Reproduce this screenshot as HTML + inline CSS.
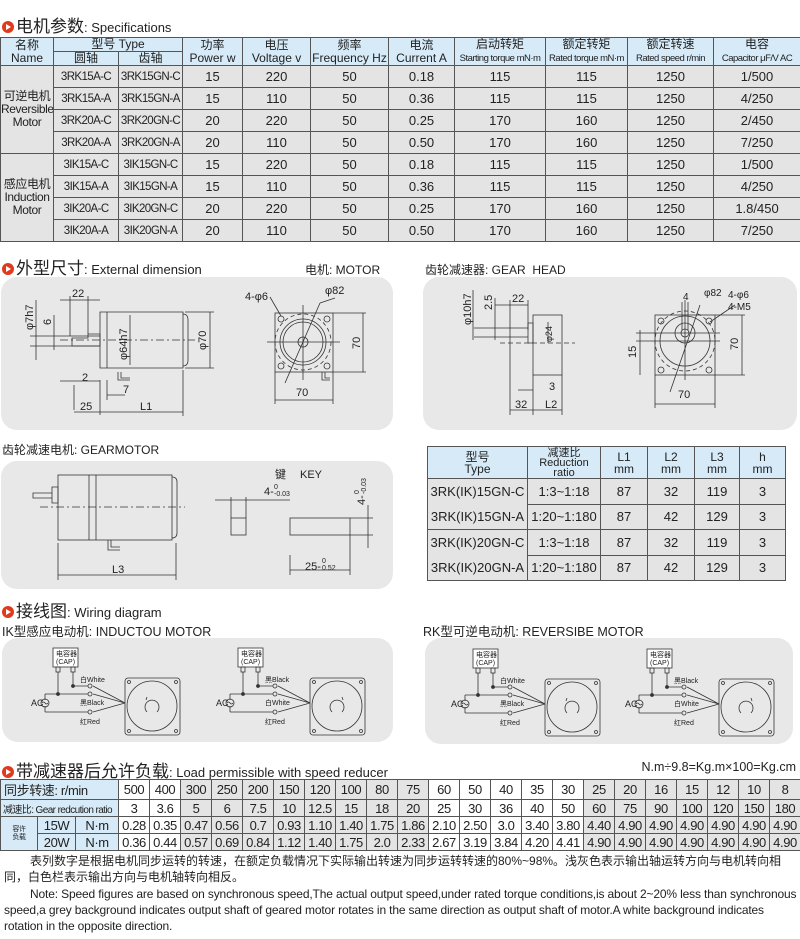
<!DOCTYPE html>
<html><head><meta charset="utf-8">
<style>
*{margin:0;padding:0;box-sizing:border-box}
body{width:800px;height:939px;background:#fff;position:relative;overflow:hidden;font-family:"Liberation Sans","Noto Sans CJK SC",sans-serif;color:#222}
.abs{position:absolute}
table{border-collapse:collapse;table-layout:fixed;position:absolute}
td{border:1px solid #555;text-align:center;vertical-align:middle;padding:0;overflow:hidden;white-space:nowrap}
.h{background:#d6eaf8}
.g{background:#e4e4e4}
.w{background:#fff}
#t1 td{font-size:13px}
#t1 .h{font-size:12px;line-height:13px}
#t1 .s{font-size:9.5px;letter-spacing:-.5px}
#t1 .tp{font-size:11.5px;letter-spacing:-.6px}
#t2 td{font-size:13px}
#t3 td{font-size:13px;letter-spacing:-.4px}
.ttl{position:absolute;left:2px;font-size:17px;white-space:nowrap}
.ttl small{font-size:13px}
.ic{display:inline-block;width:12px;height:12px;border-radius:50%;background:#e03a1e;position:relative;vertical-align:-1px;margin-right:2px}
.ic:after{content:"";position:absolute;left:4px;top:3px;border-left:5px solid #fff;border-top:3px solid transparent;border-bottom:3px solid transparent}
.lab{position:absolute;font-size:12px;white-space:nowrap}
.note{position:absolute;left:4px;font-size:12px;line-height:16px;width:794px}
</style></head><body>

<div class="ttl" style="top:12px"><span class="ic"></span>电机参数<small>: Specifications</small></div>

<table id="t1" style="left:0;top:37px;width:800px">
<colgroup><col style="width:53px"><col style="width:65px"><col style="width:64px"><col style="width:60px"><col style="width:68px"><col style="width:78px"><col style="width:66px"><col style="width:91px"><col style="width:82px"><col style="width:86px"><col style="width:87px"></colgroup>
<tr style="height:14px"><td class="h" rowspan="2">名称<br>Name</td><td class="h" colspan="2">型号 Type</td><td class="h" rowspan="2">功率<br>Power w</td><td class="h" rowspan="2">电压<br>Voltage v</td><td class="h" rowspan="2">频率<br>Frequency Hz</td><td class="h" rowspan="2">电流<br>Current A</td><td class="h" rowspan="2">启动转矩<br><span class="s">Starting torque mN·m</span></td><td class="h" rowspan="2">额定转矩<br><span class="s">Rated torque mN·m</span></td><td class="h" rowspan="2">额定转速<br><span class="s">Rated speed r/min</span></td><td class="h" rowspan="2">电容<br><span class="s">Capacitor μF/V AC</span></td></tr>
<tr style="height:14px"><td class="h">圆轴</td><td class="h">齿轴</td></tr>
<tr style="height:22px" class="g"><td rowspan="4" class="g" style="font-size:12px;line-height:13px;letter-spacing:-.4px">可逆电机<br>Reversible<br>Motor</td><td class="tp">3RK15A-C</td><td class="tp">3RK15GN-C</td><td>15</td><td>220</td><td>50</td><td>0.18</td><td>115</td><td>115</td><td>1250</td><td>1/500</td></tr>
<tr style="height:22px" class="g"><td class="tp">3RK15A-A</td><td class="tp">3RK15GN-A</td><td>15</td><td>110</td><td>50</td><td>0.36</td><td>115</td><td>115</td><td>1250</td><td>4/250</td></tr>
<tr style="height:22px" class="g"><td class="tp">3RK20A-C</td><td class="tp">3RK20GN-C</td><td>20</td><td>220</td><td>50</td><td>0.25</td><td>170</td><td>160</td><td>1250</td><td>2/450</td></tr>
<tr style="height:22px" class="g"><td class="tp">3RK20A-A</td><td class="tp">3RK20GN-A</td><td>20</td><td>110</td><td>50</td><td>0.50</td><td>170</td><td>160</td><td>1250</td><td>7/250</td></tr>
<tr style="height:22px" class="g"><td rowspan="4" class="g" style="font-size:12px;line-height:13px;letter-spacing:-.4px">感应电机<br>Induction<br>Motor</td><td class="tp">3IK15A-C</td><td class="tp">3IK15GN-C</td><td>15</td><td>220</td><td>50</td><td>0.18</td><td>115</td><td>115</td><td>1250</td><td>1/500</td></tr>
<tr style="height:22px" class="g"><td class="tp">3IK15A-A</td><td class="tp">3IK15GN-A</td><td>15</td><td>110</td><td>50</td><td>0.36</td><td>115</td><td>115</td><td>1250</td><td>4/250</td></tr>
<tr style="height:22px" class="g"><td class="tp">3IK20A-C</td><td class="tp">3IK20GN-C</td><td>20</td><td>220</td><td>50</td><td>0.25</td><td>170</td><td>160</td><td>1250</td><td>1.8/450</td></tr>
<tr style="height:22px" class="g"><td class="tp">3IK20A-A</td><td class="tp">3IK20GN-A</td><td>20</td><td>110</td><td>50</td><td>0.50</td><td>170</td><td>160</td><td>1250</td><td>7/250</td></tr>
</table>

<div class="ttl" style="top:254px"><span class="ic"></span>外型尺寸<small>: External dimension</small></div>
<div class="lab" style="left:305px;top:261px">电机: MOTOR</div>
<div class="lab" style="left:425px;top:261px">齿轮减速器: GEAR&nbsp; HEAD</div>
<div class="lab" style="left:2px;top:441px">齿轮减速电机: GEARMOTOR</div>

<svg class="abs" style="left:0;top:0" width="800" height="939" font-family="Liberation Sans, sans-serif" font-size="11" fill="none" stroke="#333" stroke-width="0.8">
<rect x="1" y="277" width="392" height="153" rx="16" fill="#e8e8e8" stroke="none"/>
<rect x="423" y="277" width="374" height="153" rx="16" fill="#e8e8e8" stroke="none"/>
<rect x="1" y="461" width="392" height="128" rx="16" fill="#e8e8e8" stroke="none"/>
<rect x="2" y="638" width="391" height="104" rx="16" fill="#e8e8e8" stroke="none"/>
<rect x="425" y="638" width="368" height="106" rx="16" fill="#e8e8e8" stroke="none"/>

<path d="M100 312H183V368H100Z M107 312V368 M183 314Q188 314 188 320V360Q188 366 183 366"/>
<path d="M72 338H88V334H100V346H72Z"/>
<path d="M60 340H195" stroke-dasharray="8 3 2 3"/>
<path d="M210 312V368 M185 312H214 M185 368H214 M130 315V365 M36 300V360 M30 336H100 M30 346H100 M54 315V350 M60 300H100 M70 296V336 M88 296V334 M74 385V410 M100 380V415 M107 380V400 M60 381H100 M107 395H125 M74 412H183 M183 370V416"/>
<path d="M118 372V380H130 M121 372V378H130"/>
<g fill="#222" stroke="none" font-size="11">
<text x="72" y="297">22</text><text x="82" y="381">2</text><text x="123" y="393">7</text><text x="80" y="410">25</text><text x="140" y="410">L1</text>
<text transform="translate(206 350) rotate(-90)">φ70</text>
<text transform="translate(127 360) rotate(-90)">φ64h7</text>
<text transform="translate(33 330) rotate(-90)">φ7h7</text>
<text transform="translate(51 325) rotate(-90)">6</text>
</g>
<rect x="275" y="313" width="58" height="59"/>
<circle cx="303" cy="342" r="23"/><circle cx="303" cy="342" r="20"/><circle cx="303" cy="342" r="5"/>
<circle cx="303" cy="342" r="28" stroke-dasharray="4 3"/>
<circle cx="281" cy="319" r="3"/><circle cx="327" cy="319" r="3"/><circle cx="281" cy="366" r="3"/><circle cx="327" cy="366" r="3"/>
<path d="M267 342H340 M303 305V380 M285 383L320 303 M333 313H366 M333 372H366 M363 313V372 M275 372V404 M333 372V404 M275 400H333 M270 297L281 316 M320 303L335 298"/>
<path d="M322 372V380H330 M325 372V378H330"/>
<g fill="#222" stroke="none" font-size="11"><text x="245" y="300">4-φ6</text><text x="325" y="294">φ82</text><text x="296" y="396">70</text><text transform="translate(360 349) rotate(-90)">70</text></g>

<rect x="533" y="315" width="29" height="60"/>
<path d="M528 323H533V343H528Z M510 328H528V337H510Z"/>
<path d="M500 343H575" stroke-dasharray="5 3"/>
<path d="M495 305H528 M510 300V328 M528 300V330 M474 328H510 M474 337H510 M473 290V340 M495 298V340 M548 322V343 M533 375V415 M510 337V415 M562 375V415 M518 390H533 M510 410H562"/>
<g fill="#222" stroke="none" font-size="11"><text x="512" y="302">22</text><text x="549" y="390">3</text><text x="515" y="408">32</text><text x="545" y="408">L2</text>
<text transform="translate(471 325) rotate(-90)">φ10h7</text><text transform="translate(492 310) rotate(-90)">2.5</text><text transform="translate(552 342) rotate(-90)" font-size="9">φ24</text></g>
<rect x="655" y="315" width="60" height="60"/>
<circle cx="685" cy="341" r="25"/><circle cx="685" cy="333" r="10"/><circle cx="685" cy="333" r="4"/>
<circle cx="685" cy="341" r="30" stroke-dasharray="4 3"/>
<circle cx="661" cy="321" r="3"/><circle cx="709" cy="321" r="3"/><circle cx="661" cy="370" r="3"/><circle cx="709" cy="370" r="3"/>
<path d="M636 333H720 M636 341H720 M685 300V380 M670 392L700 305 M715 315H745 M715 375H745 M742 315V375 M640 330V375 M655 375V408 M715 375V408 M655 404H715 M710 322L735 305 M682 302V330 M688 302V330"/>
<g fill="#222" stroke="none" font-size="10"><text x="704" y="296">φ82</text><text x="728" y="298">4-φ6</text><text x="728" y="310">4-M5</text><text x="683" y="300">4</text><text x="678" y="398" font-size="11">70</text>
<text transform="translate(738 350) rotate(-90)" font-size="11">70</text><text transform="translate(636 358) rotate(-90)" font-size="11">15</text></g>

<rect x="58" y="475" width="114" height="65"/>
<path d="M89 475V540 M96 475V540 M172 477Q177 477 177 482V533Q177 538 172 538"/>
<path d="M52 487H58V503H52Z M33 493H52V498H33Z"/>
<path d="M40 507H185" stroke-dasharray="8 3 2 3"/>
<path d="M108 540V550H120 M111 540V547H120"/>
<path d="M58 543V580 M176 543V580 M58 575H176"/>
<rect x="231" y="518" width="15" height="17"/><rect x="290" y="518" width="60" height="17"/>
<path d="M215 500H290 M231 497V518 M246 497V518 M290 555V575 M350 535V575 M290 570H350 M350 518H373 M350 535H373 M368 505V548"/>
<g fill="#222" stroke="none" font-size="11"><text x="112" y="573">L3</text><text x="275" y="478">键</text><text x="300" y="478">KEY</text>
<text x="264" y="495">4-</text><text x="274" y="489" font-size="7">0</text><text x="274" y="496" font-size="7">-0.03</text>
<text x="305" y="570">25-</text><text x="322" y="563" font-size="7">0</text><text x="322" y="570" font-size="7">0.52</text>
<text transform="translate(365 505) rotate(-90)">4-</text><text transform="translate(359 494) rotate(-90)" font-size="7">0</text><text transform="translate(366 494) rotate(-90)" font-size="7">-0.03</text></g>

<g>
<rect x="53" y="648" width="25" height="19" fill="#fff"/>
<rect x="56" y="667" width="4" height="5"/><rect x="71" y="667" width="4" height="5"/>
<path d="M58 672V694 M73 672V686 M73 686H90 M45 694H90 M45 712H90 M45 694V700 M45 706V712 M93 686L125 703 M93 694L125 703 M93 712L125 703"/>
<circle cx="45" cy="703" r="4"/><path d="M42 703q1.5-2 3 0t3 0"/>
<circle cx="90" cy="686" r="2" fill="#e8e8e8"/><circle cx="90" cy="694" r="2" fill="#e8e8e8"/><circle cx="90" cy="712" r="2" fill="#e8e8e8"/>
<circle cx="58" cy="694" r="1.5" fill="#333"/><circle cx="73" cy="686" r="1.5" fill="#333"/>
<rect x="125" y="678" width="55" height="57" rx="3"/><circle cx="152" cy="706" r="25"/>
<circle cx="129" cy="682" r="1.5"/><circle cx="176" cy="682" r="1.5"/><circle cx="129" cy="731" r="1.5"/><circle cx="176" cy="731" r="1.5"/>
<path d="M147 712a7 7 0 1 1 10 0 M146 700l1 -3"/>
<g fill="#222" stroke="none" font-size="7"><text x="56" y="656">电容器</text><text x="56" y="664">(CAP)</text><text x="31" y="706" font-size="9">AC</text>
<text x="80" y="682">白White</text><text x="80" y="705">黑Black</text><text x="80" y="724">红Red</text></g>
</g>
<g transform="translate(185 0)">
<rect x="53" y="648" width="25" height="19" fill="#fff"/>
<rect x="56" y="667" width="4" height="5"/><rect x="71" y="667" width="4" height="5"/>
<path d="M58 672V694 M73 672V686 M73 686H90 M45 694H90 M45 712H90 M45 694V700 M45 706V712 M93 686L125 703 M93 694L125 703 M93 712L125 703"/>
<circle cx="45" cy="703" r="4"/><path d="M42 703q1.5-2 3 0t3 0"/>
<circle cx="90" cy="686" r="2" fill="#e8e8e8"/><circle cx="90" cy="694" r="2" fill="#e8e8e8"/><circle cx="90" cy="712" r="2" fill="#e8e8e8"/>
<circle cx="58" cy="694" r="1.5" fill="#333"/><circle cx="73" cy="686" r="1.5" fill="#333"/>
<rect x="125" y="678" width="55" height="57" rx="3"/><circle cx="152" cy="706" r="25"/>
<circle cx="129" cy="682" r="1.5"/><circle cx="176" cy="682" r="1.5"/><circle cx="129" cy="731" r="1.5"/><circle cx="176" cy="731" r="1.5"/>
<path d="M147 712a7 7 0 1 1 10 0 M158 700l-1 -3"/>
<g fill="#222" stroke="none" font-size="7"><text x="56" y="656">电容器</text><text x="56" y="664">(CAP)</text><text x="31" y="706" font-size="9">AC</text>
<text x="80" y="682">黑Black</text><text x="80" y="705">白White</text><text x="80" y="724">红Red</text></g>
</g>
<g transform="translate(420 1)">
<rect x="53" y="648" width="25" height="19" fill="#fff"/>
<rect x="56" y="667" width="4" height="5"/><rect x="71" y="667" width="4" height="5"/>
<path d="M58 672V694 M73 672V686 M73 686H90 M45 694H90 M45 712H90 M45 694V700 M45 706V712 M93 686L125 703 M93 694L125 703 M93 712L125 703"/>
<circle cx="45" cy="703" r="4"/><path d="M42 703q1.5-2 3 0t3 0"/>
<circle cx="90" cy="686" r="2" fill="#e8e8e8"/><circle cx="90" cy="694" r="2" fill="#e8e8e8"/><circle cx="90" cy="712" r="2" fill="#e8e8e8"/>
<circle cx="58" cy="694" r="1.5" fill="#333"/><circle cx="73" cy="686" r="1.5" fill="#333"/>
<rect x="125" y="678" width="55" height="57" rx="3"/><circle cx="152" cy="706" r="25"/>
<circle cx="129" cy="682" r="1.5"/><circle cx="176" cy="682" r="1.5"/><circle cx="129" cy="731" r="1.5"/><circle cx="176" cy="731" r="1.5"/>
<path d="M147 712a7 7 0 1 1 10 0 M146 700l1 -3"/>
<g fill="#222" stroke="none" font-size="7"><text x="56" y="656">电容器</text><text x="56" y="664">(CAP)</text><text x="31" y="706" font-size="9">AC</text>
<text x="80" y="682">白White</text><text x="80" y="705">黑Black</text><text x="80" y="724">红Red</text></g>
</g>
<g transform="translate(594 1)">
<rect x="53" y="648" width="25" height="19" fill="#fff"/>
<rect x="56" y="667" width="4" height="5"/><rect x="71" y="667" width="4" height="5"/>
<path d="M58 672V694 M73 672V686 M73 686H90 M45 694H90 M45 712H90 M45 694V700 M45 706V712 M93 686L125 703 M93 694L125 703 M93 712L125 703"/>
<circle cx="45" cy="703" r="4"/><path d="M42 703q1.5-2 3 0t3 0"/>
<circle cx="90" cy="686" r="2" fill="#e8e8e8"/><circle cx="90" cy="694" r="2" fill="#e8e8e8"/><circle cx="90" cy="712" r="2" fill="#e8e8e8"/>
<circle cx="58" cy="694" r="1.5" fill="#333"/><circle cx="73" cy="686" r="1.5" fill="#333"/>
<rect x="125" y="678" width="55" height="57" rx="3"/><circle cx="152" cy="706" r="25"/>
<circle cx="129" cy="682" r="1.5"/><circle cx="176" cy="682" r="1.5"/><circle cx="129" cy="731" r="1.5"/><circle cx="176" cy="731" r="1.5"/>
<path d="M147 712a7 7 0 1 1 10 0 M158 700l-1 -3"/>
<g fill="#222" stroke="none" font-size="7"><text x="56" y="656">电容器</text><text x="56" y="664">(CAP)</text><text x="31" y="706" font-size="9">AC</text>
<text x="80" y="682">黑Black</text><text x="80" y="705">白White</text><text x="80" y="724">红Red</text></g>
</g>
</svg>

<table id="t2" style="left:427px;top:446px;width:358px">
<colgroup><col style="width:100px"><col style="width:73px"><col style="width:47px"><col style="width:47px"><col style="width:45px"><col style="width:46px"></colgroup>
<tr style="height:32px" class="h"><td style="font-size:12px;line-height:12px">型号<br>Type</td><td style="font-size:11px;line-height:10px">减速比<br>Reduction<br>ratio</td><td style="font-size:12px;line-height:12px">L1<br>mm</td><td style="font-size:12px;line-height:12px">L2<br>mm</td><td style="font-size:12px;line-height:12px">L3<br>mm</td><td style="font-size:12px;line-height:12px">h<br>mm</td></tr>
<tr style="height:25px" class="g"><td rowspan="2" style="line-height:25px">3RK(IK)15GN-C<br>3RK(IK)15GN-A</td><td>1:3~1:18</td><td>87</td><td>32</td><td>119</td><td>3</td></tr>
<tr style="height:25px" class="g"><td>1:20~1:180</td><td>87</td><td>42</td><td>129</td><td>3</td></tr>
<tr style="height:25px" class="g"><td rowspan="2" style="line-height:25px">3RK(IK)20GN-C<br>3RK(IK)20GN-A</td><td>1:3~1:18</td><td>87</td><td>32</td><td>119</td><td>3</td></tr>
<tr style="height:25px" class="g"><td>1:20~1:180</td><td>87</td><td>42</td><td>129</td><td>3</td></tr>
</table>

<div class="ttl" style="top:597px"><span class="ic"></span>接线图<small>: Wiring diagram</small></div>
<div class="lab" style="left:2px;top:621px;font-size:12.5px">IK型感应电动机: INDUCTOU MOTOR</div>
<div class="lab" style="left:423px;top:621px;font-size:12.5px">RK型可逆电动机: REVERSIBE MOTOR</div>

<div class="ttl" style="top:757px"><span class="ic"></span>带减速器后允许负载<small>: Load permissible with speed reducer</small></div>
<div class="lab" style="right:4px;top:760px;font-size:12.5px">N.m÷9.8=Kg.m×100=Kg.cm</div>

<table id="t3" style="left:0;top:779px;width:800px">
<colgroup><col style="width:37px"><col style="width:38px"><col style="width:43px">
<col style="width:31px"><col style="width:31px"><col style="width:31px"><col style="width:31px"><col style="width:31px"><col style="width:31px"><col style="width:31px"><col style="width:31px"><col style="width:31px"><col style="width:31px"><col style="width:31px"><col style="width:31px"><col style="width:31px"><col style="width:31px"><col style="width:31px"><col style="width:31px"><col style="width:31px"><col style="width:31px"><col style="width:31px"><col style="width:31px"><col style="width:31px"><col style="width:31px"></colgroup>
<tr style="height:17px"><td colspan="3" class="h" style="text-align:left;padding-left:3px">同步转速: r/min</td><td class="w">500</td><td class="w">400</td><td class="g">300</td><td class="g">250</td><td class="g">200</td><td class="g">150</td><td class="g">120</td><td class="g">100</td><td class="g">80</td><td class="g">75</td><td class="w">60</td><td class="w">50</td><td class="w">40</td><td class="w">35</td><td class="w">30</td><td class="g">25</td><td class="g">20</td><td class="g">16</td><td class="g">15</td><td class="g">12</td><td class="g">10</td><td class="g">8</td></tr>
<tr style="height:17px"><td colspan="3" class="h" style="text-align:left;padding-left:2px;font-size:10px;letter-spacing:-.6px">减速比: Gear redcution ratio</td><td class="w">3</td><td class="w">3.6</td><td class="g">5</td><td class="g">6</td><td class="g">7.5</td><td class="g">10</td><td class="g">12.5</td><td class="g">15</td><td class="g">18</td><td class="g">20</td><td class="w">25</td><td class="w">30</td><td class="w">36</td><td class="w">40</td><td class="w">50</td><td class="g">60</td><td class="g">75</td><td class="g">90</td><td class="g">100</td><td class="g">120</td><td class="g">150</td><td class="g">180</td></tr>
<tr style="height:17px"><td rowspan="2" class="h" style="font-size:7px;line-height:8px">容许<br>负载</td><td class="h">15W</td><td class="h">N·m</td><td class="w">0.28</td><td class="w">0.35</td><td class="g">0.47</td><td class="g">0.56</td><td class="g">0.7</td><td class="g">0.93</td><td class="g">1.10</td><td class="g">1.40</td><td class="g">1.75</td><td class="g">1.86</td><td class="w">2.10</td><td class="w">2.50</td><td class="w">3.0</td><td class="w">3.40</td><td class="w">3.80</td><td class="g">4.40</td><td class="g">4.90</td><td class="g">4.90</td><td class="g">4.90</td><td class="g">4.90</td><td class="g">4.90</td><td class="g">4.90</td></tr>
<tr style="height:17px"><td class="h">20W</td><td class="h">N·m</td><td class="w">0.36</td><td class="w">0.44</td><td class="g">0.57</td><td class="g">0.69</td><td class="g">0.84</td><td class="g">1.12</td><td class="g">1.40</td><td class="g">1.75</td><td class="g">2.0</td><td class="g">2.33</td><td class="w">2.67</td><td class="w">3.19</td><td class="w">3.84</td><td class="w">4.20</td><td class="w">4.41</td><td class="g">4.90</td><td class="g">4.90</td><td class="g">4.90</td><td class="g">4.90</td><td class="g">4.90</td><td class="g">4.90</td><td class="g">4.90</td></tr>
</table>

<div class="note" style="top:853px;text-indent:26px">表列数字是根据电机同步运转的转速，在额定负载情况下实际输出转速为同步运转转速的80%~98%。浅灰色表示输出轴运转方向与电机转向相同，白色栏表示输出方向与电机轴转向相反。</div>
<div class="note" style="top:886px;text-indent:26px;letter-spacing:-.15px">Note: Speed figures are based on synchronous speed,The actual output speed,under rated torque conditions,is about 2~20% less than synchronous speed,a grey background indicates output shaft of geared motor rotates in the same direction as output shaft of motor.A white background indicates rotation in the opposite direction.</div>
</body></html>
